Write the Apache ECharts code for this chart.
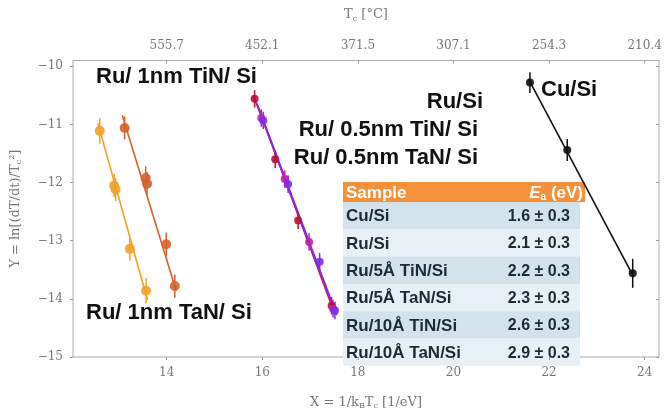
<!DOCTYPE html>
<html><head><meta charset="utf-8">
<script src="https://cdn.jsdelivr.net/npm/echarts@6/dist/echarts.min.js"></script>
<style>html,body{margin:0;padding:0;background:#fff}#c{width:666px;height:415px}</style>
</head><body><div id="c"></div>
<script>
// ---- axis ticks ----
const xTicks = [14, 16, 18, 20, 22, 24];
const topTickLabels = ['555.7', '452.1', '371.5', '307.1', '254.3', '210.4'];
const yTicks = [-15, -14, -13, -12, -11, -10];

// ---- series data (X = 1/kBTc, Y = ln[(dT/dt)/Tc^2], error) ----
const cuX = [21.60, 22.38, 23.75];
const cuY = [-10.28, -11.44, -13.56];
const cuErr = [0.18, 0.19, 0.25];
const cuFitX = [21.57, 23.77];
const cuFitY = [-10.22, -13.62];

const tan1X = [12.60, 12.90, 12.93, 13.23, 13.57];
const tan1Y = [-11.11, -12.05, -12.12, -13.14, -13.86];
const tan1Err = [0.22, 0.2, 0.2, 0.2, 0.22];
const tan1FitX = [12.56, 13.60];
const tan1FitY = [-10.98, -14.02];

const tin1X = [13.12, 13.56, 13.59, 13.99, 14.17];
const tin1Y = [-11.06, -11.92, -12.02, -13.06, -13.78];
const tin1Err = [0.2, 0.2, 0.2, 0.2, 0.2];
const tin1FitX = [13.07, 14.20];
const tin1FitY = [-10.84, -13.86];

const ruSiX = [15.84, 16.27, 16.75, 17.45];
const ruSiY = [-10.56, -11.60, -12.65, -14.12];
const ruSiErr = [0.15, 0.15, 0.15, 0.15];
const ruSiFitX = [15.82, 17.48];
const ruSiFitY = [-10.50, -14.18];

const tin05X = [15.98, 16.47, 16.98, 17.48];
const tin05Y = [-10.89, -11.94, -13.02, -14.17];
const tin05Err = [0.15, 0.15, 0.15, 0.15];
const tin05FitX = [15.85, 17.52];
const tin05FitY = [-10.58, -14.22];

const tan05X = [16.02, 16.54, 17.20, 17.52];
const tan05Y = [-10.93, -12.03, -13.36, -14.20];
const tan05Err = [0.15, 0.15, 0.15, 0.15];
const tan05FitX = [15.90, 17.56];
const tan05FitY = [-10.66, -14.28];

// ---- table ----
const tableSamples = ['Cu/Si', 'Ru/Si', 'Ru/5Å TiN/Si', 'Ru/5Å TaN/Si', 'Ru/10Å TiN/Si', 'Ru/10Å TaN/Si'];
const tableEa = ['1.6 ± 0.3', '2.1 ± 0.3', '2.2 ± 0.3', '2.3 ± 0.3', '2.6 ± 0.3', '2.9 ± 0.3'];

const groups = [
  {x: tan1X, y: tan1Y, e: tan1Err, fx: tan1FitX, fy: tan1FitY, color: '#f2a127', size: 10},
  {x: tin1X, y: tin1Y, e: tin1Err, fx: tin1FitX, fy: tin1FitY, color: '#d4622a', size: 10},
  {x: ruSiX, y: ruSiY, e: ruSiErr, fx: ruSiFitX, fy: ruSiFitY, color: '#b8123e', size: 8},
  {x: tin05X, y: tin05Y, e: tin05Err, fx: tin05FitX, fy: tin05FitY, color: '#c21fa8', size: 8},
  {x: tan05X, y: tan05Y, e: tan05Err, fx: tan05FitX, fy: tan05FitY, color: '#7a2cf0', size: 8},
  {x: cuX, y: cuY, e: cuErr, fx: cuFitX, fy: cuFitY, color: '#111111', size: 8}
];

const series = [];
groups.forEach(g => {
  series.push({
    type: 'line', data: g.fx.map((v, i) => [v, g.fy[i]]), showSymbol: false,
    lineStyle: {color: g.color, width: 1.6}, silent: true, z: 3
  });
  series.push({
    type: 'custom', data: g.x.map((v, i) => [v, g.y[i], g.e[i]]), z: 4,
    renderItem: (params, api) => {
      const x = api.value(0), y = api.value(1), e = api.value(2);
      const p1 = api.coord([x, y + e]), p2 = api.coord([x, y - e]);
      return {type: 'line', shape: {x1: p1[0], y1: p1[1], x2: p2[0], y2: p2[1]},
              style: {stroke: g.color, lineWidth: 1.5}};
    }
  });
  series.push({
    type: 'scatter', data: g.x.map((v, i) => [v, g.y[i]]), symbol: 'circle',
    symbolSize: g.size, itemStyle: {color: g.color, opacity: 0.9}, z: 5
  });
});

const tickFont = {fontFamily: 'DejaVu Serif', fontSize: 12, color: '#777'};
const X0 = 343, HW = 242, RW = 237, HY = 182, HH = 20, RH = 27.3;
const graphics = [];
graphics.push({type: 'rect', z: 0, shape: {x: X0, y: HY, width: HW, height: HH}, style: {fill: '#f4913a'}});
graphics.push({type: 'text', z: 1, x: X0 + 3, y: HY + HH / 2 + 1, style: {text: 'Sample', fill: '#fff', font: 'bold 17px "Liberation Sans"', verticalAlign: 'middle'}});
graphics.push({type: 'text', z: 1, x: X0 + HW - 2, y: HY + HH / 2 + 1, style: {
  text: '{i|E}{s|a}{n| (eV)}', align: 'right', verticalAlign: 'middle',
  rich: {i: {fill: '#fff', font: 'italic bold 17px "Liberation Sans"'},
         s: {fill: '#fff', font: 'bold 10px "Liberation Sans"', padding: [8, 0, 0, 0]},
         n: {fill: '#fff', font: 'bold 17px "Liberation Sans"'}}}});
tableSamples.forEach((s, i) => {
  const y0 = HY + HH + i * RH;
  graphics.push({type: 'rect', z: 0, shape: {x: X0, y: y0, width: RW, height: RH},
    style: {fill: i % 2 === 0 ? '#d2e3eb' : '#e7f0f4'}});
  graphics.push({type: 'text', z: 1, x: X0 + 3, y: y0 + RH / 2 + 1, style: {text: s, fill: '#1d2b38', font: 'bold 17px "Liberation Sans"', verticalAlign: 'middle'}});
  graphics.push({type: 'text', z: 1, x: 570, y: y0 + RH / 2 + 1, style: {text: tableEa[i], fill: '#1d2b38', font: 'bold 16px "Liberation Sans"', verticalAlign: 'middle', align: 'right'}});
});
const annFont = 'bold 22px "Liberation Sans"';
const annotations = [
  {t: 'Ru/ 1nm TiN/ Si', x: 96, y: 77, a: 'left'},
  {t: 'Ru/ 1nm TaN/ Si', x: 86, y: 313, a: 'left'},
  {t: 'Ru/Si', x: 483, y: 102, a: 'right'},
  {t: 'Ru/ 0.5nm TiN/ Si', x: 478, y: 130, a: 'right'},
  {t: 'Ru/ 0.5nm TaN/ Si', x: 478, y: 158, a: 'right'},
  {t: 'Cu/Si', x: 541, y: 90, a: 'left'}
];
annotations.forEach(a => graphics.push({type: 'text', z: 10, x: a.x, y: a.y,
  style: {text: a.t, fill: '#111', font: annFont, align: a.a, verticalAlign: 'middle'}}));

const chart = echarts.init(document.getElementById('c'), null, {renderer: 'canvas'});
chart.setOption({
  animation: false,
  backgroundColor: '#fff',
  grid: {left: 73, right: 7, top: 60.5, bottom: 48.3, show: true, borderColor: '#aaa', borderWidth: 1},
  xAxis: [{
    type: 'value', min: 12.04, max: 24.3, position: 'bottom',
    axisLine: {show: false}, splitLine: {show: false},
    axisTick: {show: true, customValues: xTicks, length: 3, lineStyle: {color: '#999'}},
    axisLabel: {customValues: xTicks, margin: 10, ...tickFont},
    name: '{n|X = 1/k}{s|B}{n|T}{s|c}{n| [1/eV]}', nameLocation: 'middle', nameGap: 38,
    nameTextStyle: {rich: {n: {fontFamily: 'DejaVu Serif', fontSize: 13, color: '#777'},
                           s: {fontFamily: 'DejaVu Serif', fontSize: 8, color: '#777', padding: [7, 0, 0, 0]}}}
  }, {
    type: 'value', min: 12.04, max: 24.3, position: 'top',
    axisLine: {show: false}, splitLine: {show: false},
    axisTick: {show: true, inside: true, customValues: xTicks, length: 3, lineStyle: {color: '#999'}},
    axisLabel: {customValues: xTicks, margin: 9, ...tickFont,
      formatter: v => topTickLabels[xTicks.indexOf(Math.round(v))] || ''},
    name: '{n|T}{s|c}{n| [°C]}', nameLocation: 'middle', nameGap: 38,
    nameTextStyle: {rich: {n: {fontFamily: 'DejaVu Serif', fontSize: 13, color: '#777'},
                           s: {fontFamily: 'DejaVu Serif', fontSize: 8, color: '#777', padding: [7, 0, 0, 0]}}}
  }],
  yAxis: [{
    type: 'value', min: -15, max: -9.9, position: 'left',
    axisLine: {show: false}, splitLine: {show: false},
    axisTick: {show: true, customValues: yTicks, length: 3, lineStyle: {color: '#999'}},
    axisLabel: {customValues: yTicks, margin: 10, ...tickFont, formatter: v => String(v).replace('-', '−')},
    name: '{n|Y = ln[(dT/dt)/T}{s|c}{p|2}{n|]}', nameLocation: 'middle', nameGap: 50,
    nameTextStyle: {rich: {n: {fontFamily: 'DejaVu Serif', fontSize: 13, color: '#777'},
                           s: {fontFamily: 'DejaVu Serif', fontSize: 8, color: '#777', padding: [7, 0, 0, 0]},
                           p: {fontFamily: 'DejaVu Serif', fontSize: 8, color: '#777', padding: [0, 0, 7, 0]}}}
  }, {
    type: 'value', min: -15, max: -9.9, position: 'right',
    axisLine: {show: false}, splitLine: {show: false},
    axisTick: {show: true, inside: true, customValues: yTicks, length: 3, lineStyle: {color: '#999'}},
    axisLabel: {show: false}
  }],
  graphic: {elements: graphics},
  series: series
});
</script>
</body></html>
